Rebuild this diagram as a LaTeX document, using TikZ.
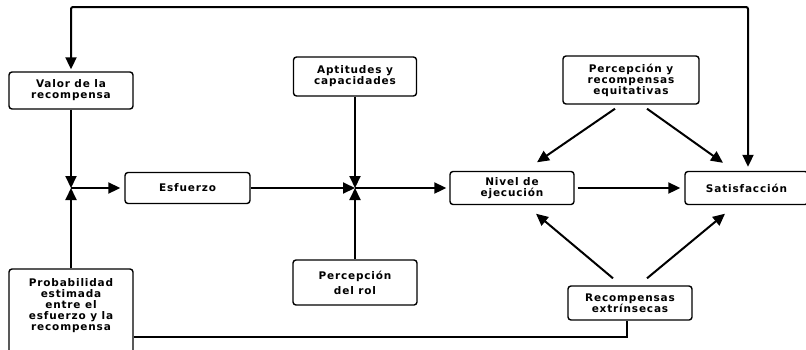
\documentclass[tikz,border=0pt]{standalone}
\usepackage{fontspec}
\setmainfont{DejaVu Sans}[LetterSpace=8]
\usetikzlibrary{arrows.meta,calc}
\begin{document}
\begin{tikzpicture}[x=1pt,y=-1pt,
  txt/.style={align=center, font=\fontsize{10.5}{11}\selectfont\bfseries, inner sep=0pt},
  box/.style={txt, draw, line width=1.4pt, rounded corners=3pt},
  conn/.style={line width=2pt},
  tip/.style={-{Triangle[length=12pt,width=11pt]}},
  arr/.style={conn, tip},
]
\useasboundingbox (0,0) rectangle (806,349);

\node[box, minimum width=124, minimum height=37] (val) at (71,90.5) {Valor de la\\recompensa};
\node[box, minimum width=125, minimum height=31] (esf) at (187.5,188) {Esfuerzo};
\node[box, minimum width=124, minimum height=86] (prob) at (71,312) {};
\node[txt] (probt) at (71,306) {Probabilidad\\estimada\\entre el\\esfuerzo y la\\recompensa};
\node[box, minimum width=123, minimum height=39] (apt) at (355,76.5) {Aptitudes y\\capacidades};
\node[box, minimum width=124, minimum height=45] (rol) at (355,282.5) {Percepción\\[4pt]del rol};
\node[box, minimum width=124, minimum height=33] (niv) at (512,188) {Nivel de\\ejecución};
\node[box, minimum width=136, minimum height=48] (peq) at (631,80) {Percepción y\\recompensas\\equitativas};
\node[box, minimum width=124, minimum height=34] (rec) at (630,303) {Recompensas\\extrínsecas};
\node[box, minimum width=123, minimum height=33] (sat) at (746.5,188) {Satisfacción};

\coordinate (j1) at (71,188);
\coordinate (j2) at (355,188);
\coordinate (tc) at (400,7);
\coordinate (bc) at (627,337);

% inputs to first junction
\draw[arr] (val.south) -- (j1);
\draw[arr] (prob.north) -- (j1);
\draw[arr, shorten >=4pt] (j1) -- (esf.west);

% inputs to second junction
\draw[arr] (esf.east) -- (j2);
\draw[arr] (apt.south) -- (j2);
\draw[arr] (rol.north) -- (j2);
\draw[arr, shorten >=3pt] (j2) -- (niv.west);

% performance to satisfaction
\draw[arr, shorten <=3pt, shorten >=4pt] (niv.east) -- (sat.west);

% equity perception
\draw[arr] ($(peq.south)+(-16,4)$) -- ($(niv.north)+(25,-8.5)$);
\draw[arr] ($(peq.south)+(16,4)$) -- ($(sat.north)+(-23.5,-8)$);

% extrinsic rewards
\draw[arr] ($(rec.north)+(-17,-7)$) -- ($(niv.south)+(24,8.5)$);
\draw[arr] ($(rec.north)+(17,-7)$) -- ($(sat.south)+(-21.5,8.5)$);

% top feedback line
\draw[conn, {Triangle[length=12pt,width=11pt]}-{Triangle[length=12pt,width=11pt]},
      shorten <=2pt, shorten >=4pt, rounded corners=2pt]
  (val.north) |- (tc) -| ($(sat.north)+(1.5,0)$);

% bottom line
\draw[conn] (prob.east |- bc) -- (bc) -- (rec.south -| bc);
\end{tikzpicture}
\end{document}
